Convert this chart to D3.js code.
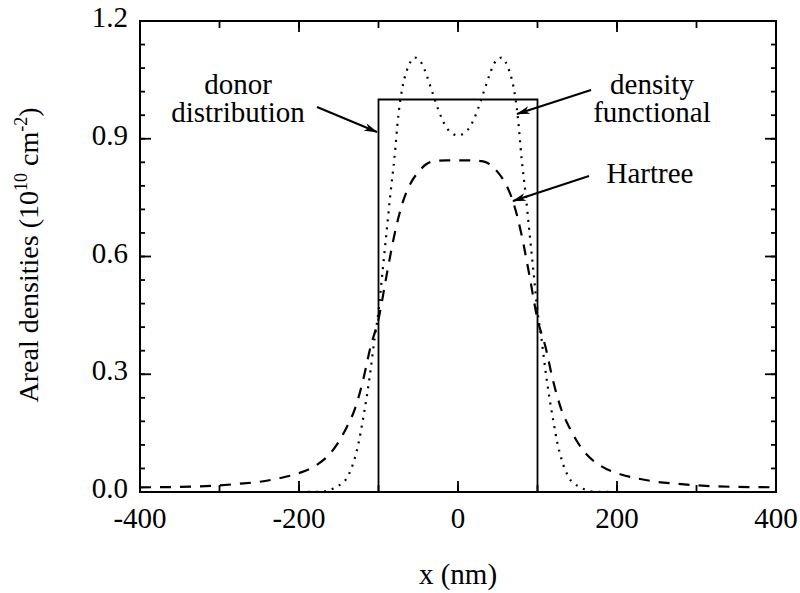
<!DOCTYPE html>
<meta charset="utf-8">
<script src="https://d3js.org/d3.v7.min.js"></script>
<style>
  body { margin: 0; background: #fff; }
  text { font-family: "Liberation Serif", "Times New Roman", serif; fill: #000; }
</style>
<div id="my_dataviz"></div>
<script>
  // data
  var donorX = [-100, -100, 100, 100];
  var donorY = [0, 1.0, 1.0, 0];

  var dftX = [-400, -200, -170, -160, -150, -140, -130, -125, -120, -115, -110, -105, -100,
    -95, -90, -85, -80, -75, -70, -65, -60, -55, -50, -45, -40, -35, -30, -25, -20, -15, -10, -5, 0,
    5, 10, 15, 20, 25, 30, 35, 40, 45, 50, 55, 60, 65, 70, 75, 80, 85, 90, 95,
    100, 105, 110, 115, 120, 125, 130, 140, 150, 160, 170, 200, 400];
  var dftY = [0, 0, 0.001, 0.006, 0.016, 0.035, 0.085, 0.125, 0.18, 0.24, 0.31, 0.39, 0.46,
    0.56, 0.66, 0.76, 0.85, 0.96, 1.03, 1.07, 1.095, 1.107, 1.103, 1.09, 1.065, 1.035, 1.005, 0.975, 0.95, 0.93, 0.918, 0.911, 0.908,
    0.911, 0.918, 0.93, 0.95, 0.975, 1.005, 1.035, 1.065, 1.09, 1.103, 1.107, 1.095, 1.07, 1.03, 0.96, 0.85, 0.76, 0.66, 0.56,
    0.46, 0.39, 0.31, 0.24, 0.18, 0.125, 0.085, 0.035, 0.016, 0.006, 0.001, 0, 0];

  var hartreeX = [-400, -350, -300, -275, -250, -225, -200, -180, -160, -150, -140, -130, -120, -110,
    -100, -90, -80, -70, -60, -50, -40, -30, -15, 0, 15, 30, 40, 50, 60, 70, 80, 90,
    100, 110, 120, 130, 140, 150, 160, 180, 200, 225, 250, 275, 300, 350, 400];
  var hartreeY = [0.012, 0.013, 0.017, 0.021, 0.026, 0.035, 0.048, 0.066, 0.1, 0.128, 0.165, 0.21, 0.28, 0.37,
    0.44, 0.55, 0.655, 0.735, 0.785, 0.815, 0.835, 0.843, 0.845, 0.845, 0.845, 0.843, 0.835, 0.815, 0.785, 0.735, 0.655, 0.55,
    0.44, 0.37, 0.28, 0.21, 0.165, 0.128, 0.1, 0.066, 0.048, 0.035, 0.026, 0.021, 0.017, 0.013, 0.012];

  var xMajor = [-400, -200, 0, 200, 400];
  var yMajor = [0.0, 0.3, 0.6, 0.9, 1.2];

  // dimensions
  var width = 800, height = 593;
  var mLeft = 140, mRight = 776, mTop = 21, mBottom = 492;

  var svg = d3.select("#my_dataviz")
    .append("svg")
    .attr("width", width)
    .attr("height", height);

  var x = d3.scaleLinear().domain([-400, 400]).range([mLeft, mRight]);
  var y = d3.scaleLinear().domain([0, 1.2]).range([mBottom, mTop]);

  // arrow marker
  svg.append("defs").append("marker")
    .attr("id", "arrow")
    .attr("viewBox", "0 0 14 8")
    .attr("refX", 13).attr("refY", 4)
    .attr("markerWidth", 14).attr("markerHeight", 8)
    .attr("markerUnits", "userSpaceOnUse")
    .attr("orient", "auto")
    .append("path")
    .attr("d", "M0,0 L14,4 L0,8 L4,4 Z")
    .attr("fill", "#000");

  // curves
  var line = d3.line()
    .x(function (d) { return x(d[0]); })
    .y(function (d) { return y(d[1]); });

  var smooth = d3.line()
    .x(function (d) { return x(d[0]); })
    .y(function (d) { return y(d[1]); })
    .curve(d3.curveMonotoneX);

  svg.append("path")
    .datum(donorX.map(function (v, i) { return [v, donorY[i]]; }))
    .attr("d", line)
    .attr("fill", "none")
    .attr("stroke", "#000")
    .attr("stroke-width", 1.8);

  svg.append("path")
    .datum(dftX.map(function (v, i) { return [v, dftY[i]]; }))
    .attr("d", smooth)
    .attr("fill", "none")
    .attr("stroke", "#000")
    .attr("stroke-width", 2.2)
    .attr("stroke-dasharray", "2,6");

  svg.append("path")
    .datum(hartreeX.map(function (v, i) { return [v, hartreeY[i]]; }))
    .attr("d", smooth)
    .attr("fill", "none")
    .attr("stroke", "#000")
    .attr("stroke-width", 2.2)
    .attr("stroke-dasharray", "11,9");

  // frame
  svg.append("rect")
    .attr("x", mLeft).attr("y", mTop)
    .attr("width", mRight - mLeft).attr("height", mBottom - mTop)
    .attr("fill", "none")
    .attr("stroke", "#000")
    .attr("stroke-width", 2);

  // ticks, inward on all four sides
  var xMinor = d3.range(-400, 401, 100);
  var yMinor = d3.range(0, 61, 3).map(function (v) { return v / 50; });
  var ticks = svg.append("g").attr("stroke", "#000").attr("stroke-width", 1.8);

  function tickSet(vals, isX, len) {
    vals.forEach(function (v) {
      if (isX) {
        ticks.append("line").attr("x1", x(v)).attr("x2", x(v)).attr("y1", mBottom).attr("y2", mBottom - len);
        ticks.append("line").attr("x1", x(v)).attr("x2", x(v)).attr("y1", mTop).attr("y2", mTop + len);
      } else {
        ticks.append("line").attr("y1", y(v)).attr("y2", y(v)).attr("x1", mLeft).attr("x2", mLeft + len);
        ticks.append("line").attr("y1", y(v)).attr("y2", y(v)).attr("x1", mRight).attr("x2", mRight - len);
      }
    });
  }
  tickSet(xMinor, true, 7);
  tickSet(xMajor, true, 11);
  tickSet(yMinor, false, 5);
  tickSet(yMajor, false, 11);

  // tick labels
  svg.selectAll(".xlab")
    .data(xMajor)
    .enter()
    .append("text")
    .attr("x", function (d) { return x(d); })
    .attr("y", 528)
    .attr("text-anchor", "middle")
    .style("font-size", "29px")
    .text(function (d) { return d; });

  svg.selectAll(".ylab")
    .data(yMajor)
    .enter()
    .append("text")
    .attr("x", mLeft - 12)
    .attr("y", function (d) { return y(d) + 6; })
    .attr("text-anchor", "end")
    .style("font-size", "29px")
    .text(function (d) { return d3.format(".1f")(d); });

  // axis titles
  svg.append("text")
    .attr("x", (mLeft + mRight) / 2)
    .attr("y", 584)
    .attr("text-anchor", "middle")
    .style("font-size", "29px")
    .text("x (nm)");

  var yt = svg.append("text")
    .attr("transform", "translate(38," + 255 + ") rotate(-90)")
    .attr("text-anchor", "middle")
    .style("font-size", "28px");
  yt.append("tspan").text("Areal densities (10");
  yt.append("tspan").attr("dy", -11).style("font-size", "18px").text("10");
  yt.append("tspan").attr("dy", 11).text(" cm");
  yt.append("tspan").attr("dy", -11).style("font-size", "18px").text("-2");
  yt.append("tspan").attr("dy", 11).text(")");

  // annotations
  function label(lines, cx, y0) {
    var t = svg.append("text").attr("text-anchor", "middle").style("font-size", "29px");
    lines.forEach(function (s, i) {
      t.append("tspan").attr("x", cx).attr("y", y0 + i * 28).text(s);
    });
  }
  label(["donor", "distribution"], 238, 94);
  label(["density", "functional"], 652, 94);
  label(["Hartree"], 650, 183);

  function arrow(x1, y1, x2, y2) {
    svg.append("line")
      .attr("x1", x1).attr("y1", y1).attr("x2", x2).attr("y2", y2)
      .attr("stroke", "#000").attr("stroke-width", 2)
      .attr("marker-end", "url(#arrow)");
  }
  arrow(317, 107, 377, 132);
  arrow(591, 90, 517, 114);
  arrow(589, 176, 513, 201);
</script>
